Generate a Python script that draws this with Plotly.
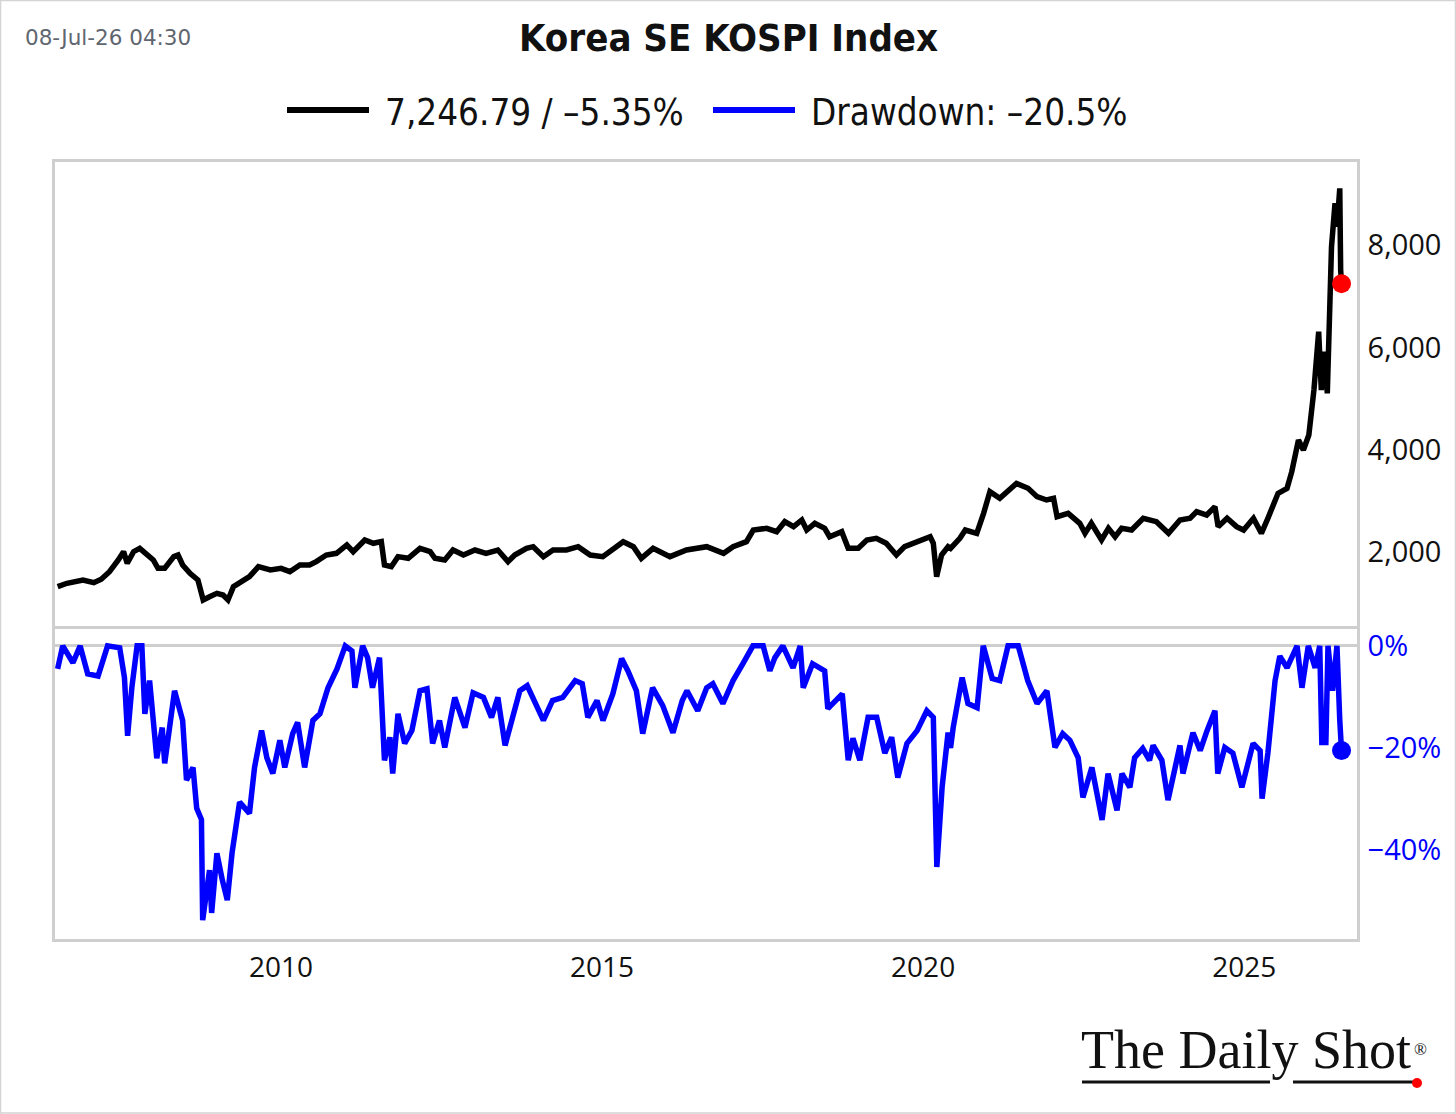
import plotly.graph_objects as go

# ---------------- data ----------------
idx_dates = [
    "2006-07-10", "2006-09-01", "2006-12-01", "2007-02-01", "2007-03-15", "2007-05-01",
    "2007-06-20", "2007-07-20", "2007-08-10", "2007-09-15", "2007-10-20", "2007-12-01",
    "2008-01-05", "2008-02-01", "2008-03-10", "2008-05-01", "2008-05-25", "2008-06-20",
    "2008-08-01", "2008-09-15", "2008-10-15", "2008-11-20", "2009-01-01", "2009-02-05",
    "2009-03-05", "2009-04-05", "2009-06-01", "2009-07-05", "2009-08-25", "2009-11-01",
    "2010-01-01", "2010-02-20", "2010-04-18", "2010-06-12", "2010-07-20", "2010-09-15",
    "2010-11-12", "2011-01-10", "2011-02-15", "2011-04-22", "2011-06-10", "2011-07-25",
    "2011-08-12", "2011-09-20", "2011-10-28", "2011-12-25", "2012-03-01", "2012-04-28",
    "2012-05-25", "2012-07-20", "2012-09-05", "2012-11-03", "2013-01-08", "2013-03-12",
    "2013-05-18", "2013-06-28", "2013-07-15", "2013-08-22", "2013-10-28", "2013-12-05",
    "2014-02-01", "2014-03-28", "2014-06-12", "2014-08-18", "2014-10-25", "2015-01-05",
    "2015-02-15", "2015-05-01", "2015-06-28", "2015-08-12", "2015-10-18", "2016-01-22",
    "2016-04-25", "2016-08-18", "2016-11-22", "2017-01-15", "2017-04-01", "2017-05-10",
    "2017-07-25", "2017-09-20", "2017-11-05", "2017-12-25", "2018-02-10", "2018-03-10",
    "2018-04-25", "2018-06-20", "2018-07-18", "2018-09-25", "2018-11-01", "2018-12-28",
    "2019-02-15", "2019-04-10", "2019-06-05", "2019-08-02", "2019-09-18", "2019-11-25",
    "2020-02-10", "2020-02-28", "2020-03-18", "2020-04-15", "2020-05-22", "2020-06-05",
    "2020-07-28", "2020-08-28", "2020-11-01", "2020-12-10", "2021-01-15", "2021-03-12",
    "2021-04-28", "2021-06-15", "2021-08-20", "2021-10-10", "2021-12-03", "2022-01-12",
    "2022-02-01", "2022-04-05", "2022-06-10", "2022-07-10", "2022-08-15", "2022-10-12",
    "2022-11-20", "2022-12-28", "2023-02-03", "2023-04-01", "2023-06-06", "2023-08-20",
    "2023-10-28", "2024-01-01", "2024-02-28", "2024-04-05", "2024-06-01", "2024-07-18",
    "2024-08-05", "2024-09-25", "2024-11-18", "2024-12-28", "2025-02-22", "2025-04-08",
    "2025-05-15", "2025-07-12", "2025-09-01", "2025-09-28", "2025-11-05", "2025-12-03",
    "2026-01-03", "2026-02-01", "2026-02-28", "2026-03-15", "2026-04-03", "2026-04-18",
    "2026-05-12", "2026-06-01", "2026-06-12", "2026-06-28", "2026-07-03", "2026-07-08",
]
idx_values = [
    1322, 1388, 1453, 1400, 1466, 1615,
    1844, 2006, 1779, 2006, 2072, 1941,
    1844, 1681, 1681, 1909, 1941, 1746,
    1583, 1453, 1062, 1126, 1192, 1159,
    1062, 1322, 1453, 1517, 1713, 1648,
    1681, 1615, 1746, 1746, 1811, 1941,
    1974, 2137, 2006, 2235, 2170, 2202,
    1746, 1713, 1909, 1876, 2072, 2006,
    1876, 1844, 2039, 1941, 2039, 1974,
    2039, 1876, 1811, 1941, 2072, 2104,
    1909, 2039, 2039, 2104, 1941, 1909,
    2006, 2202, 2104, 1876, 2072, 1909,
    2039, 2104, 1974, 2104, 2202, 2430,
    2463, 2397, 2593, 2495, 2626, 2430,
    2561, 2463, 2299, 2397, 2072, 2072,
    2235, 2268, 2170, 1941, 2104, 2202,
    2299, 2170, 1517, 1941, 2104, 2072,
    2268, 2430, 2365, 2756, 3179, 3049,
    3212, 3342, 3245, 3081, 3017, 3049,
    2690, 2756, 2561, 2365, 2561, 2235,
    2463, 2299, 2463, 2430, 2659, 2593,
    2365, 2626, 2659, 2789, 2723, 2886,
    2495, 2659, 2495, 2430, 2659, 2365,
    2659, 3147, 3245, 3570, 4190, 3994,
    4287, 5167, 6307, 5167, 5916, 5102,
    7969, 8817, 8360, 9110, 7513, 7246.79,
]

dd_dates = [
    "2006-07-10", "2006-08-08", "2006-10-05", "2006-11-15", "2006-12-28", "2007-02-25",
    "2007-04-20", "2007-06-28", "2007-07-25", "2007-08-12", "2007-09-05", "2007-10-05",
    "2007-11-01", "2007-11-18", "2007-12-15", "2008-01-25", "2008-02-25", "2008-03-10",
    "2008-05-05", "2008-06-20", "2008-07-12", "2008-08-18", "2008-09-08", "2008-10-05",
    "2008-10-12", "2008-11-20", "2008-12-02", "2009-01-01", "2009-02-01", "2009-03-01",
    "2009-03-28", "2009-04-25", "2009-05-10", "2009-07-05", "2009-08-03", "2009-09-12",
    "2009-10-12", "2009-11-15", "2009-12-25", "2010-01-22", "2010-03-08", "2010-04-05",
    "2010-05-15", "2010-07-01", "2010-08-10", "2010-09-25", "2010-11-15", "2011-01-01",
    "2011-02-08", "2011-02-25", "2011-04-10", "2011-05-08", "2011-06-05", "2011-07-15",
    "2011-08-12", "2011-09-12", "2011-09-28", "2011-10-28", "2011-12-05", "2012-01-15",
    "2012-03-01", "2012-04-10", "2012-05-12", "2012-06-20", "2012-07-20", "2012-09-15",
    "2012-11-12", "2012-12-28", "2013-02-25", "2013-04-12", "2013-05-18", "2013-06-28",
    "2013-08-12", "2013-09-20", "2013-11-01", "2013-12-15", "2014-02-01", "2014-03-25",
    "2014-05-22", "2014-08-01", "2014-09-10", "2014-10-12", "2014-12-03", "2015-01-06",
    "2015-03-03", "2015-04-22", "2015-05-28", "2015-07-15", "2015-08-20", "2015-10-15",
    "2015-12-12", "2016-02-08", "2016-04-01", "2016-04-28", "2016-06-28", "2016-08-18",
    "2016-09-22", "2016-11-18", "2017-01-15", "2017-03-12", "2017-05-08", "2017-07-05",
    "2017-08-12", "2017-09-10", "2017-10-25", "2017-12-22", "2018-02-01", "2018-02-18",
    "2018-04-12", "2018-06-20", "2018-07-08", "2018-09-28", "2018-11-01", "2018-11-28",
    "2019-01-06", "2019-02-22", "2019-04-12", "2019-05-28", "2019-07-06", "2019-08-10",
    "2019-10-01", "2019-11-28", "2020-01-22", "2020-02-28", "2020-03-19", "2020-04-18",
    "2020-05-22", "2020-06-05", "2020-06-20", "2020-08-10", "2020-09-12", "2020-11-03",
    "2020-12-08", "2021-01-28", "2021-03-12", "2021-04-28", "2021-06-25", "2021-08-18",
    "2021-10-10", "2021-12-05", "2022-01-20", "2022-03-05", "2022-04-15", "2022-06-01",
    "2022-06-28", "2022-08-18", "2022-10-15", "2022-11-18", "2023-01-08", "2023-02-05",
    "2023-03-22", "2023-04-18", "2023-06-03", "2023-07-12", "2023-08-01", "2023-09-20",
    "2023-10-25", "2024-01-01", "2024-01-18", "2024-03-15", "2024-04-25", "2024-06-03",
    "2024-07-18", "2024-08-03", "2024-09-12", "2024-10-28", "2024-12-18", "2025-01-22",
    "2025-02-20", "2025-04-01", "2025-04-12", "2025-05-15", "2025-06-25", "2025-07-22",
    "2025-09-01", "2025-10-28", "2025-11-25", "2025-12-31", "2026-02-08", "2026-03-06",
    "2026-03-18", "2026-04-10", "2026-04-22", "2026-05-18", "2026-06-12", "2026-06-28",
    "2026-07-08",
]
dd_values = [
    -4.5, 0.0, -3.3, 0.0, -5.5, -5.9,
    0.0, -0.4, -6.2, -17.6, -8.2, 0.0,
    0.0, -13.3, -6.8, -22.0, -16.0, -23.0,
    -8.8, -14.6, -26.3, -23.8, -31.8, -34.0,
    -53.7, -43.9, -52.3, -40.6, -45.9, -49.8,
    -40.6, -34.7, -30.6, -32.8, -23.8, -16.6,
    -21.9, -25.0, -18.5, -23.8, -17.2, -15.0,
    -23.8, -14.6, -13.3, -8.2, -4.5, 0.0,
    -1.0, -8.2, 0.0, -2.3, -8.2, -2.3,
    -22.4, -17.9, -25.0, -13.3, -19.1, -16.6,
    -8.8, -8.4, -19.1, -14.6, -19.9, -10.1,
    -16.0, -9.2, -10.1, -14.0, -10.1, -19.5,
    -14.0, -8.8, -7.8, -11.1, -14.6, -10.7,
    -10.1, -6.8, -7.4, -14.0, -10.7, -14.6,
    -9.4, -2.5, -4.9, -8.8, -17.2, -8.2,
    -11.7, -17.0, -10.7, -8.8, -12.7, -8.2,
    -7.4, -11.3, -6.8, -3.5, 0.0, 0.0,
    -4.9, -2.3, 0.0, -4.3, 0.0, -8.2,
    -3.5, -4.9, -12.3, -9.4, -22.4, -18.1,
    -22.4, -14.0, -14.0, -21.0, -17.9, -25.8,
    -19.1, -16.6, -12.7, -14.0, -43.3, -27.7,
    -17.0, -20.0, -16.0, -6.2, -11.3, -12.1,
    0.0, -6.4, -6.8, 0.0, 0.0, -6.8,
    -11.3, -8.8, -19.9, -17.2, -18.5, -21.9,
    -29.7, -23.8, -34.1, -25.0, -32.2, -25.0,
    -27.7, -21.9, -20.1, -22.4, -19.5, -22.4,
    -30.2, -19.5, -25.0, -17.0, -20.5, -16.6,
    -12.7, -25.0, -19.9, -21.0, -27.7, -23.0,
    -19.1, -20.5, -29.9, -21.0, -6.8, -2.0,
    -4.3, 0.0, -8.2, 0.0, -4.3, 0.0,
    -18.9, -18.9, 0.0, -8.8, 0.0, -14.6,
    -20.5,
]

year_tick_vals = ["2010-01-01", "2015-01-01", "2020-01-01", "2025-01-01"]
year_tick_text = ["2010", "2015", "2020", "2025"]
idx_tick_vals = [2000, 4000, 6000, 8000]
idx_tick_text = ["2,000", "4,000", "6,000", "8,000"]
dd_tick_vals = [0, -20, -40]
dd_tick_text = ["0%", "\u221220%", "\u221240%"]

title_text = "Korea SE KOSPI Index"
stamp_text = "08-Jul-26 04:30"
legend_idx_text = "7,246.79 / \u20135.35%"
legend_dd_text = "Drawdown: \u201320.5%"

# ---------------- layout helpers (pixel -> paper) ----------------
W, H = 1456, 1114
L, R, T, B = 55, 1357, 162, 939
PW, PH = R - L, B - T


def px(x):
    return (x - L) / PW


def py(y):
    return (B - y) / PH


BLACK = "#000000"
BLUE = "#0000ff"
RED = "#ff0000"
GRID = "#cfcfcf"
CONDENSED = "DejaVu Sans Condensed, Liberation Sans Narrow, sans-serif"
TICKFONT = "Open Sans, Noto Sans, sans-serif"

fig = go.Figure()
fig.add_trace(go.Scatter(x=idx_dates, y=idx_values, mode="lines",
                         line=dict(color=BLACK, width=5.5), xaxis="x", yaxis="y",
                         showlegend=False, hoverinfo="skip"))
fig.add_trace(go.Scatter(x=[idx_dates[-1]], y=[idx_values[-1]], mode="markers",
                         marker=dict(color=RED, size=19), xaxis="x", yaxis="y",
                         showlegend=False, hoverinfo="skip"))
fig.add_trace(go.Scatter(x=dd_dates, y=dd_values, mode="lines",
                         line=dict(color=BLUE, width=5.5), xaxis="x2", yaxis="y2",
                         showlegend=False, hoverinfo="skip"))
fig.add_trace(go.Scatter(x=[dd_dates[-1]], y=[dd_values[-1]], mode="markers",
                         marker=dict(color=BLUE, size=19), xaxis="x2", yaxis="y2",
                         showlegend=False, hoverinfo="skip"))

x_range = ["2006-06-25", "2026-10-04"]
axis_line = dict(showline=True, mirror=True, linecolor=GRID, linewidth=2.5,
                 showgrid=False, zeroline=False)

fig.update_layout(
    width=W, height=H,
    margin=dict(l=L, r=W - R, t=T, b=H - B),
    paper_bgcolor="white", plot_bgcolor="white",
    showlegend=False,
    xaxis=dict(domain=[0, 1], anchor="y", range=x_range, type="date",
               showticklabels=False, ticks="", **axis_line),
    xaxis2=dict(domain=[0, 1], anchor="y2", range=x_range, type="date", matches="x",
                tickvals=year_tick_vals, ticktext=year_tick_text, ticks="",
                tickfont=dict(family=TICKFONT, size=28, color="#111111"),
                ticklabelstandoff=2, **axis_line),
    yaxis=dict(domain=[py(626), 1], anchor="x", side="right", range=[553, 9625],
               tickvals=idx_tick_vals, ticktext=idx_tick_text, ticks="",
               tickfont=dict(family=TICKFONT, size=29, color="#111111"),
               ticklabelstandoff=2, **axis_line),
    yaxis2=dict(domain=[0, py(629)], anchor="x2", side="right", range=[-57.4, 3.3],
                tickvals=dd_tick_vals, ticktext=dd_tick_text, ticks="",
                tickfont=dict(family=TICKFONT, size=29, color=BLUE),
                ticklabelstandoff=2,
                showline=True, mirror=True, linecolor=GRID, linewidth=2.5,
                showgrid=False, zeroline=True, zerolinecolor=GRID, zerolinewidth=2.5),
)

annotations = [
    dict(text=f"<b>{title_text}</b>", x=px(728), y=py(38), xref="paper", yref="paper",
         xanchor="center", yanchor="middle", showarrow=False,
         font=dict(family=CONDENSED, size=38, color="#111111")),
    dict(text=stamp_text, x=px(23), y=py(37), xref="paper", yref="paper",
         xanchor="left", yanchor="middle", showarrow=False,
         font=dict(family="DejaVu Sans, sans-serif", size=21.5, color="#5f6670")),
    dict(text=legend_idx_text, x=px(383), y=py(112), xref="paper", yref="paper",
         xanchor="left", yanchor="middle", showarrow=False,
         font=dict(family=CONDENSED, size=36.5, color="#111111")),
    dict(text=legend_dd_text, x=px(809), y=py(112), xref="paper", yref="paper",
         xanchor="left", yanchor="middle", showarrow=False,
         font=dict(family=CONDENSED, size=36.5, color="#111111")),
    dict(text="The Daily Shot", x=px(1079), y=py(1050), xref="paper",
         yref="paper", xanchor="left", yanchor="middle", showarrow=False,
         font=dict(family="Liberation Serif, DejaVu Serif, serif", size=54, color="#111111")),
    dict(text="\u00ae", x=px(1420), y=py(1049), xref="paper",
         yref="paper", xanchor="center", yanchor="middle", showarrow=False,
         font=dict(family="Liberation Serif, DejaVu Serif, serif", size=17, color="#111111")),
]

shapes = [
    # outer figure border
    dict(type="rect", xref="paper", yref="paper", x0=px(0.5), x1=px(1455.5),
         y0=py(0.5), y1=py(1113), line=dict(color="#d4d4d4", width=1.5)),
    # legend swatches
    dict(type="line", xref="paper", yref="paper", x0=px(287), x1=px(369),
         y0=py(110), y1=py(110), line=dict(color=BLACK, width=6)),
    dict(type="line", xref="paper", yref="paper", x0=px(713), x1=px(795),
         y0=py(110), y1=py(110), line=dict(color=BLUE, width=6)),
    # watermark underline and dot
    dict(type="line", xref="paper", yref="paper", x0=px(1082), x1=px(1270),
         y0=py(1082), y1=py(1082), line=dict(color="#111111", width=3)),
    dict(type="line", xref="paper", yref="paper", x0=px(1293), x1=px(1416),
         y0=py(1082), y1=py(1082), line=dict(color="#111111", width=3)),
    dict(type="circle", xref="paper", yref="paper", x0=px(1412), x1=px(1422),
         y0=py(1078), y1=py(1088), fillcolor=RED, line=dict(color=RED, width=0)),
]

fig.update_layout(annotations=annotations, shapes=shapes)
fig.write_html("out.html")
